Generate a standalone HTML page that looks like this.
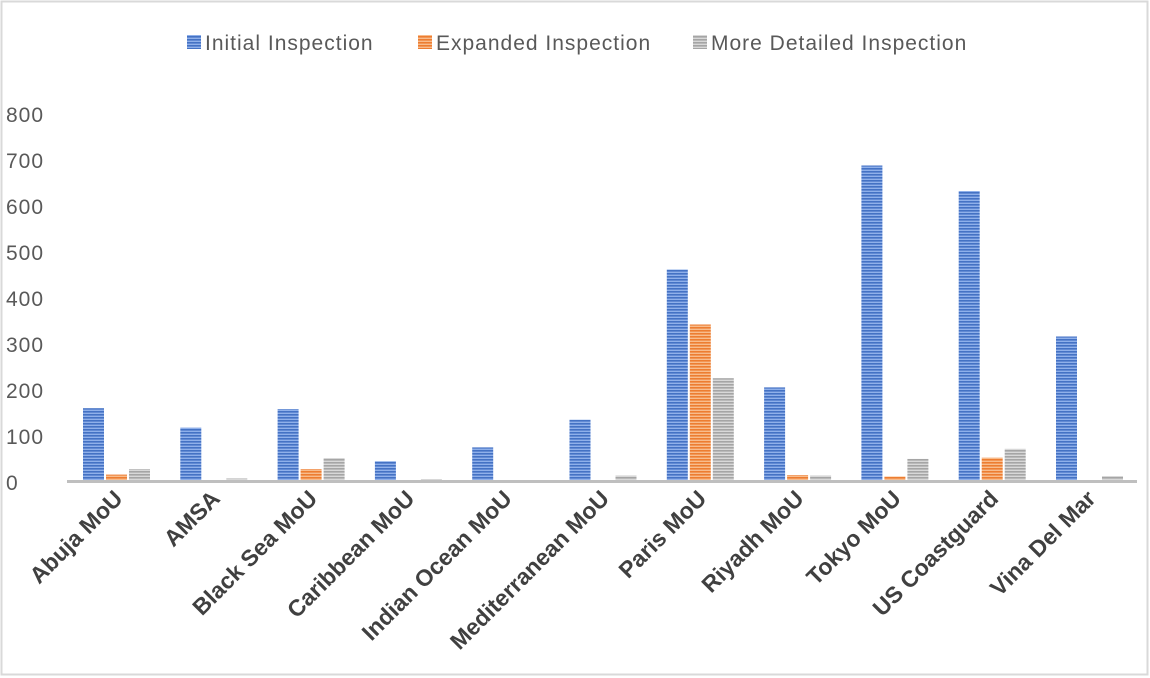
<!DOCTYPE html><html><head><style>body{margin:0;background:#fff}svg{display:block}</style></head><body>
<svg width="1150" height="678" xmlns="http://www.w3.org/2000/svg" font-family="Liberation Sans, sans-serif">
<defs>
<pattern id="pb" width="6" height="3" patternUnits="userSpaceOnUse"><rect width="6" height="3" fill="#8fb0ea"/><rect width="6" height="1.6" fill="#4472c4"/></pattern>
<pattern id="po" width="6" height="3" patternUnits="userSpaceOnUse"><rect width="6" height="3" fill="#f8bc8c"/><rect width="6" height="1.6" fill="#ed7d31"/></pattern>
<pattern id="pg" width="6" height="3" patternUnits="userSpaceOnUse"><rect width="6" height="3" fill="#d8d8d8"/><rect width="6" height="1.6" fill="#a5a5a5"/></pattern>
</defs>
<rect x="1.5" y="1.5" width="1146" height="673" fill="#fff" stroke="#d9d9d9" stroke-width="2"/>
<g font-size="21" fill="#595959" letter-spacing="1">
<rect x="187" y="35" width="14" height="14" fill="url(#pb)"/><text x="205" y="50">Initial Inspection</text>
<rect x="418" y="35" width="14" height="14" fill="url(#po)"/><text x="436" y="50">Expanded Inspection</text>
<rect x="693" y="35" width="14" height="14" fill="url(#pg)"/><text x="711" y="50">More Detailed Inspection</text>
</g>
<g font-size="21" fill="#595959" letter-spacing="1">
<text x="6" y="490">0</text><text x="6" y="444">100</text><text x="6" y="398">200</text><text x="6" y="352">300</text><text x="6" y="306">400</text><text x="6" y="260">500</text><text x="6" y="214">600</text><text x="6" y="168">700</text><text x="6" y="122">800</text>
</g>
<g fill="url(#pb)">
<rect x="83" y="408.2" width="21" height="72.8"/>
<rect x="180.3" y="427.6" width="21" height="53.4"/>
<rect x="277.6" y="409.1" width="21" height="71.9"/>
<rect x="374.9" y="461.2" width="21" height="19.8"/>
<rect x="472.2" y="447.4" width="21" height="33.6"/>
<rect x="569.5" y="419.7" width="21" height="61.3"/>
<rect x="666.8" y="269.5" width="21" height="211.5"/>
<rect x="764.1" y="387.4" width="21" height="93.6"/>
<rect x="861.4" y="165.5" width="21" height="315.5"/>
<rect x="958.7" y="191" width="21" height="290"/>
<rect x="1056" y="336.5" width="21" height="144.5"/>
</g>
<g fill="url(#po)">
<rect x="106" y="474.6" width="21" height="6.4"/>
<rect x="300.6" y="469.1" width="21" height="11.9"/>
<rect x="689.8" y="324.5" width="21" height="156.5"/>
<rect x="787.1" y="475.1" width="21" height="5.9"/>
<rect x="884.4" y="476.5" width="21" height="4.5"/>
<rect x="981.7" y="457.6" width="21" height="23.4"/>
</g>
<g fill="url(#pg)">
<rect x="129" y="469.1" width="21" height="11.9"/>
<rect x="226.3" y="478.3" width="21" height="2.7"/>
<rect x="323.6" y="458" width="21" height="23"/>
<rect x="420.9" y="479" width="21" height="2"/>
<rect x="615.5" y="475.5" width="21" height="5.5"/>
<rect x="712.8" y="378.2" width="21" height="102.8"/>
<rect x="810.1" y="475.5" width="21" height="5.5"/>
<rect x="907.4" y="458.9" width="21" height="22.1"/>
<rect x="1004.7" y="448.8" width="21" height="32.2"/>
<rect x="1102" y="476" width="21" height="5"/>
</g>
<rect x="67" y="480" width="1070" height="3" fill="#bfbfbf"/>
<g font-size="23" font-weight="bold" fill="#404040" text-anchor="end">
<text transform="translate(124,500) rotate(-45)">Abuja MoU</text>
<text transform="translate(221.3,500) rotate(-45)">AMSA</text>
<text transform="translate(318.6,500) rotate(-45)">Black Sea MoU</text>
<text transform="translate(415.9,500) rotate(-45)">Caribbean MoU</text>
<text transform="translate(513.2,500) rotate(-45)">Indian Ocean MoU</text>
<text transform="translate(610.5,500) rotate(-45)">Mediterranean MoU</text>
<text transform="translate(707.8,500) rotate(-45)">Paris MoU</text>
<text transform="translate(805.1,500) rotate(-45)">Riyadh MoU</text>
<text transform="translate(902.4,500) rotate(-45)">Tokyo MoU</text>
<text transform="translate(999.7,500) rotate(-45)">US Coastguard</text>
<text transform="translate(1097,500) rotate(-45)">Vina Del Mar</text>
</g>
</svg></body></html>
